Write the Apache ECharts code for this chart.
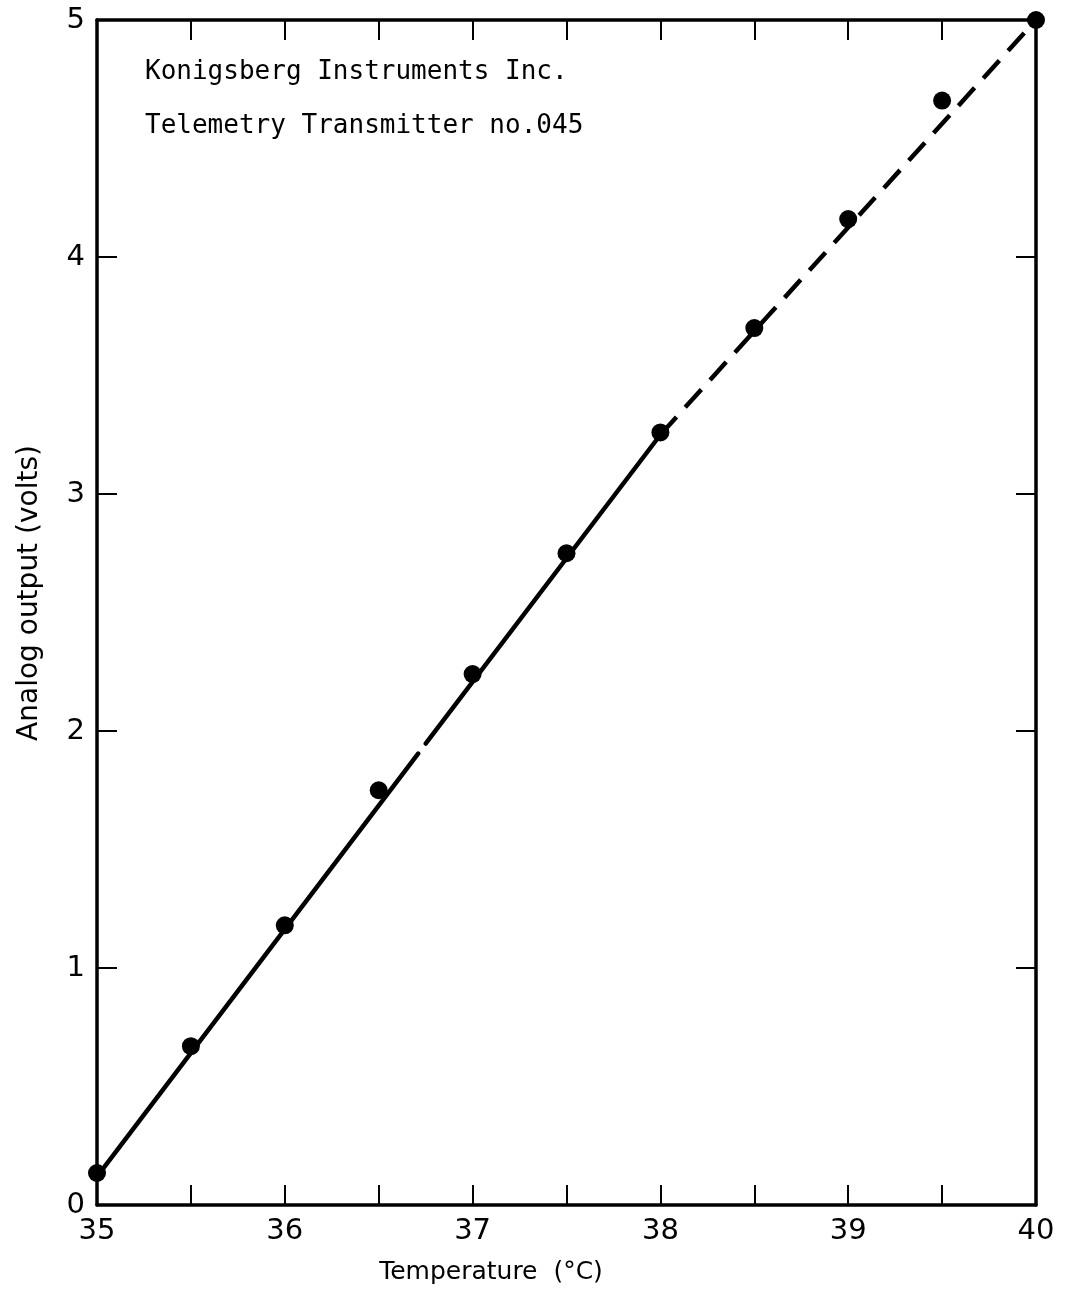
<!DOCTYPE html>
<html>
<head>
<meta charset="utf-8">
<script src="https://cdn.jsdelivr.net/npm/echarts@6/dist/echarts.min.js"></script>
<style>
html,body{margin:0;padding:0;background:#fff;}
#chart{width:1068px;height:1289px;}
</style>
</head>
<body>
<div id="chart"></div>
<script>
// Measured calibration points
const temps = [35, 35.5, 36, 36.5, 37, 37.5, 38, 38.5, 39, 39.5, 40];
const volts = [0.135, 0.67, 1.18, 1.75, 2.24, 2.75, 3.26, 3.70, 4.16, 4.66, 5.0];
// Fitted line: solid part (with a small break) and dashed extrapolation
const fitSolidA = [[35, 0.12], [36.71, 1.905]];
const fitSolidB = [[36.75, 1.947], [38, 3.25]];
const fitDashed = [[38, 3.25], [40, 5.0]];
// Axes
const xMin = 35, xMax = 40, xTickStep = 0.5;
const yMin = 0, yMax = 5, yTickStep = 1;
const xTitle = 'Temperature  (°C)';
const yTitle = 'Analog output (volts)';
const noteLines = ['Konigsberg Instruments Inc.', 'Telemetry Transmitter no.045'];

const FONT = 'DejaVu Sans';
const NOTE_FONT = 'DejaVu Sans Mono';
const chart = echarts.init(document.getElementById('chart'), null, {renderer: 'canvas'});

const axisLine = {show: true, onZero: false, lineStyle: {color: '#000', width: 3.5}};
const tick = {show: true, inside: true, length: 20, lineStyle: {color: '#000', width: 2}};

chart.setOption({
  animation: false,
  backgroundColor: '#fff',
  grid: {left: 97, right: 32, top: 20, bottom: 84, containLabel: false, outerBoundsMode: 'none'},
  xAxis: [
    {
      type: 'value', position: 'bottom', min: xMin, max: xMax, interval: xTickStep,
      axisLine: axisLine, axisTick: tick, splitLine: {show: false},
      axisLabel: {
        color: '#000', fontFamily: FONT, fontSize: 29, margin: 12,
        formatter: v => (Math.abs(v - Math.round(v)) < 1e-6 ? String(Math.round(v)) : '')
      }
    },
    {
      type: 'value', position: 'top', min: xMin, max: xMax, interval: xTickStep,
      axisLine: axisLine, axisTick: tick, splitLine: {show: false},
      axisLabel: {show: false}
    }
  ],
  yAxis: [
    {
      type: 'value', position: 'left', min: yMin, max: yMax, interval: yTickStep,
      axisLine: axisLine, axisTick: tick, splitLine: {show: false},
      axisLabel: {color: '#000', fontFamily: FONT, fontSize: 29, margin: 12}
    },
    {
      type: 'value', position: 'right', min: yMin, max: yMax, interval: yTickStep,
      axisLine: axisLine, axisTick: tick, splitLine: {show: false},
      axisLabel: {show: false}
    }
  ],
  series: [
    {
      type: 'line', data: fitSolidA, symbol: 'none', silent: true,
      lineStyle: {color: '#000', width: 4.5, cap: 'round'}
    },
    {
      type: 'line', data: fitSolidB, symbol: 'none', silent: true,
      lineStyle: {color: '#000', width: 4.5, cap: 'round'}
    },
    {
      type: 'line', data: fitDashed, symbol: 'none', silent: true,
      lineStyle: {color: '#000', width: 4.5, type: [24, 13]}
    },
    {
      type: 'scatter', data: temps.map((t, i) => [t, volts[i]]),
      symbol: 'circle', symbolSize: 18, itemStyle: {color: '#000', opacity: 1}, z: 5
    }
  ],
  graphic: [
    {
      type: 'text', x: 145, y: 72,
      style: {text: noteLines[0], fill: '#000', font: '26px "' + NOTE_FONT + '"', textVerticalAlign: 'middle', verticalAlign: 'middle'}
    },
    {
      type: 'text', x: 145, y: 126,
      style: {text: noteLines[1], fill: '#000', font: '26px "' + NOTE_FONT + '"', textVerticalAlign: 'middle', verticalAlign: 'middle'}
    },
    {
      type: 'text', x: 491, y: 1272,
      style: {text: xTitle, fill: '#000', font: '25px "' + FONT + '"', textAlign: 'center', align: 'center', textVerticalAlign: 'middle', verticalAlign: 'middle'}
    },
    {
      type: 'text', x: 30, y: 593, rotation: Math.PI / 2,
      style: {text: yTitle, fill: '#000', font: '28px "' + FONT + '"', textAlign: 'center', align: 'center', textVerticalAlign: 'middle', verticalAlign: 'middle'}
    }
  ]
});
</script>
</body>
</html>
